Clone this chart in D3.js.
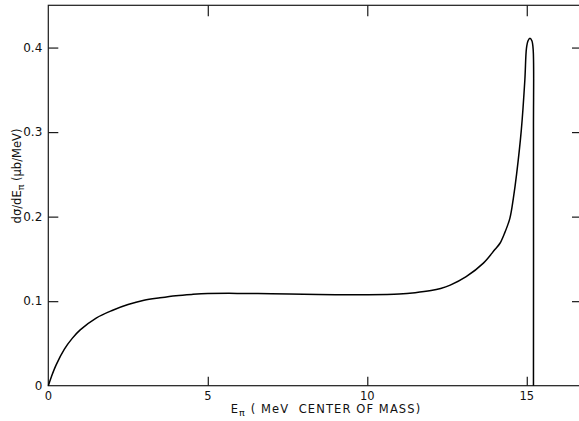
<!DOCTYPE html>
<html>
<head>
<meta charset="utf-8">
<script src="https://cdn.jsdelivr.net/npm/d3@7"></script>
<style>
  html, body { margin: 0; padding: 0; background: #fff; }
  svg { display: block; }
  text { font-family: "DejaVu Sans", sans-serif; fill: #111; white-space: pre; }
</style>
</head>
<body>
<svg id="chart" width="579" height="421"></svg>
<script>
// Pion energy spectrum, dσ/dE_π versus E_π (centre of mass)
const energy = [0, 0.1, 0.25, 0.5, 0.75, 1.0, 1.5, 2.0, 2.5, 3.0, 3.5, 4.0, 4.5, 5.0, 6.0,
  7.0, 8.0, 9.0, 10.0, 11.0, 11.5, 12.0, 12.3, 12.6, 13.1, 13.64, 14.0, 14.16, 14.3, 14.47,
  14.58, 14.68, 14.83, 14.94, 14.99, 15.04, 15.1, 15.16, 15.2, 15.21, 15.21];
const crossSection = [0, 0.011, 0.025, 0.043, 0.056, 0.066, 0.080, 0.089, 0.096, 0.101, 0.104, 0.1065, 0.108, 0.109, 0.1092,
  0.1088, 0.1082, 0.1077, 0.1077, 0.1085, 0.110, 0.1125, 0.115, 0.119, 0.129, 0.145, 0.161, 0.1685, 0.180, 0.198,
  0.222, 0.250, 0.303, 0.362, 0.399, 0.408, 0.411, 0.408, 0.398, 0.30, 0];

const xTicks = [0, 5, 10, 15];
const xTickLabels = ["0", "5", "10", "15"];
const yTicks = [0, 0.1, 0.2, 0.3, 0.4];
const yTickLabels = ["0", "0.1", "0.2", "0.3", "0.4"];

const svg = d3.select("#chart");
const mLeft = 48.3, mRight = 581, mTop = 5.3, mBottom = 385.7;

const x = d3.scaleLinear().domain([0, 16.7]).range([mLeft, mRight]);
const y = d3.scaleLinear().domain([0, 0.45]).range([mBottom, mTop]);

const ink = "#1a1a1a";

// frame
svg.append("rect")
  .attr("x", mLeft).attr("y", mTop)
  .attr("width", mRight - mLeft).attr("height", mBottom - mTop)
  .attr("fill", "none").attr("stroke", ink).attr("stroke-width", 1.2);

// bottom axis: inward ticks
const gB = svg.append("g").attr("transform", `translate(0,${mBottom})`)
  .call(d3.axisBottom(x).tickValues(xTicks.slice(1)).tickSize(-9).tickFormat(""));
gB.select(".domain").remove();
gB.selectAll("line").attr("stroke", ink).attr("stroke-width", 1.2);

// top axis: inward ticks
const gT = svg.append("g").attr("transform", `translate(0,${mTop})`)
  .call(d3.axisTop(x).tickValues(xTicks.slice(1)).tickSize(-11).tickFormat(""));
gT.select(".domain").remove();
gT.selectAll("line").attr("stroke", ink).attr("stroke-width", 1.2);

// left axis: inward ticks
const gL = svg.append("g").attr("transform", `translate(${mLeft},0)`)
  .call(d3.axisLeft(y).tickValues(yTicks.slice(1)).tickSize(-10).tickFormat(""));
gL.select(".domain").remove();
gL.selectAll("line").attr("stroke", ink).attr("stroke-width", 1.2);

// right axis: inward ticks
const gR = svg.append("g").attr("transform", `translate(${mRight},0)`)
  .call(d3.axisRight(y).tickValues(yTicks.slice(1)).tickSize(-9).tickFormat(""));
gR.select(".domain").remove();
gR.selectAll("line").attr("stroke", ink).attr("stroke-width", 1.2);

// tick labels
svg.selectAll(".xlab").data(xTicks).enter().append("text")
  .attr("class", "xlab")
  .attr("x", d => x(d)).attr("y", mBottom + 14)
  .attr("text-anchor", "middle").attr("font-size", 11.5)
  .text((d, i) => xTickLabels[i]);

svg.selectAll(".ylab").data(yTicks).enter().append("text")
  .attr("class", "ylab")
  .attr("x", mLeft - 6).attr("y", d => y(d) + 4)
  .attr("text-anchor", "end").attr("font-size", 12)
  .text((d, i) => yTickLabels[i]);

// axis titles
const xt = svg.append("text")
  .attr("x", 326).attr("y", 413)
  .attr("text-anchor", "middle").attr("font-size", 11.5)
  .attr("letter-spacing", 1.1);
xt.append("tspan").text("E");
xt.append("tspan").attr("font-size", 9.5).attr("dy", 3).text("π");
xt.append("tspan").attr("dy", -3).text(" ( MeV  CENTER OF MASS)");

const yt = svg.append("text")
  .attr("transform", "translate(21,176) rotate(-90)")
  .attr("text-anchor", "middle").attr("font-size", 11.5);
yt.append("tspan").text("dσ/dE");
yt.append("tspan").attr("font-size", 9.5).attr("dy", 3).text("π");
yt.append("tspan").attr("dy", -3).text(" (μb/MeV)");

// spectrum curve
const pts = energy.map((e, i) => [e, crossSection[i]]);
svg.append("path")
  .datum(pts)
  .attr("fill", "none").attr("stroke", "#000").attr("stroke-width", 1.5)
  .attr("d", d3.line().x(d => x(d[0])).y(d => y(d[1])).curve(d3.curveCatmullRom.alpha(0.5)));
</script>
</body>
</html>
